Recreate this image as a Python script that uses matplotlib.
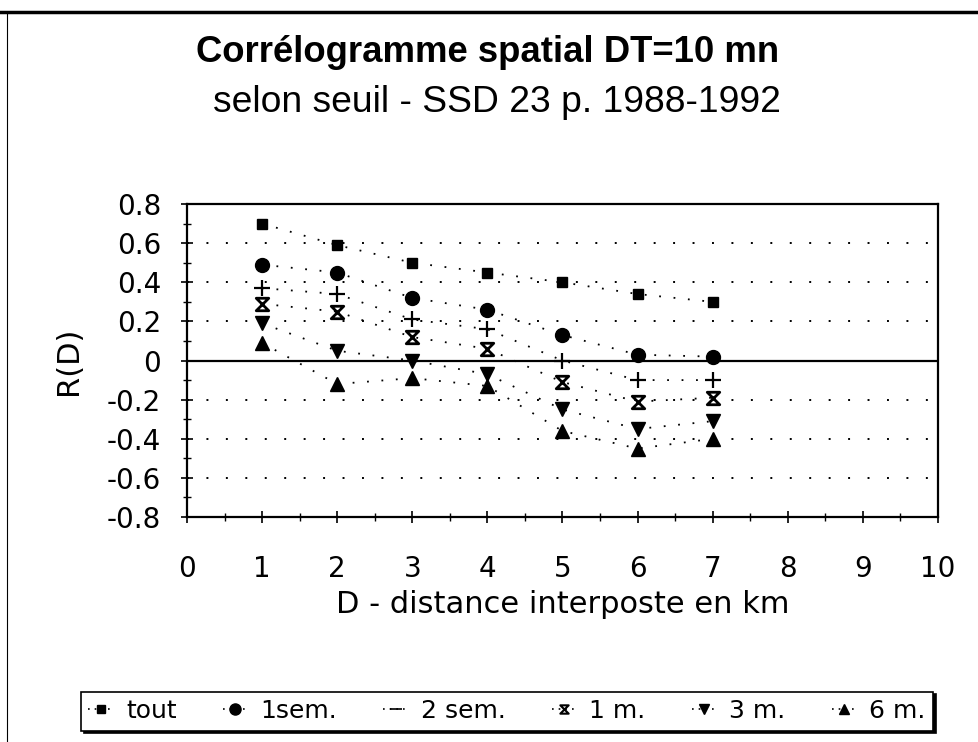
import matplotlib
matplotlib.use("Agg")
import matplotlib.pyplot as plt
from matplotlib.lines import Line2D
from matplotlib.path import Path
from matplotlib.ticker import MultipleLocator

plt.rcParams['font.family'] = ['DejaVu Sans']

# Distance (km) and correlation values per threshold
distance = [1, 2, 3, 4, 5, 6, 7]
tout = [0.70, 0.59, 0.50, 0.45, 0.40, 0.34, 0.30]
sem1 = [0.49, 0.45, 0.32, 0.26, 0.13, 0.03, 0.02]
sem2 = [0.37, 0.34, 0.21, 0.16, 0.00, -0.10, -0.10]
m1 = [0.29, 0.25, 0.12, 0.06, -0.11, -0.21, -0.19]
m3 = [0.19, 0.05, 0.00, -0.07, -0.25, -0.35, -0.31]
m6 = [0.09, -0.12, -0.09, -0.13, -0.36, -0.45, -0.40]
labels = ['tout', '1sem.', '2 sem.', '1 m.', '3 m.', '6 m.']

xticks = list(range(0, 11))
yticks = [-0.8, -0.6, -0.4, -0.2, 0, 0.2, 0.4, 0.6, 0.8]

hourglass = Path([(-1, 1), (1, 1), (-1, -1), (1, -1), (-1, 1)],
                 [Path.MOVETO, Path.LINETO, Path.LINETO, Path.LINETO, Path.CLOSEPOLY])

styles = [
    dict(marker='s', ms=7.5),
    dict(marker='o', ms=10),
    dict(marker='+', ms=11, mew=1.6),
    dict(marker=hourglass, ms=9, mfc='white', mew=2.0),
    dict(marker='v', ms=10.5),
    dict(marker='^', ms=10.5),
]
legend_styles = [
    dict(marker='s', ms=6),
    dict(marker='o', ms=8),
    dict(marker='_', ms=9, mew=1.2),
    dict(marker=hourglass, ms=6, mfc='white', mew=1.5),
    dict(marker='v', ms=7),
    dict(marker='^', ms=7),
]
series = [tout, sem1, sem2, m1, m3, m6]

fig = plt.figure(figsize=(9.79, 7.42), dpi=100)
ax = fig.add_axes([0.191, 0.3032, 0.767, 0.4218])

dotted = (0, (1, 7))
for vals, st in zip(series, styles):
    kw = dict(color='black', mec='black', ls=dotted, lw=1.3)
    if 'mfc' not in st:
        kw['mfc'] = 'black'
    kw.update(st)
    ax.plot(distance, vals, **kw)

ax.axhline(0, color='black', lw=1.6, zorder=1)
for y in [-0.6, -0.4, -0.2, 0.2, 0.4, 0.6]:
    ax.axhline(y, color='black', lw=1.4, ls=(0, (1, 9)), zorder=0)

ax.set_xlim(0, 10)
ax.set_ylim(-0.8, 0.8)
ax.set_xticks(xticks)
ax.set_xticklabels([str(v) for v in xticks])
ax.set_yticks(yticks)
ax.set_yticklabels(['0' if v == 0 else f'{v:.1f}' for v in yticks])
ax.xaxis.set_minor_locator(MultipleLocator(0.5))
ax.yaxis.set_minor_locator(MultipleLocator(0.1))
ax.tick_params(axis='both', which='major', direction='inout', length=9, width=1.2,
               labelsize=20, colors='black')
ax.tick_params(axis='both', which='minor', direction='inout', length=6, width=1.0)
ax.tick_params(axis='x', which='major', pad=23)
ax.tick_params(axis='y', which='major', pad=14)
for s in ax.spines.values():
    s.set_linewidth(1.6)

ax.set_xlabel('D - distance interposte en km', fontsize=22, labelpad=5)
ax.set_ylabel('R(D)', fontsize=22, labelpad=17)

fig.text(0.498, 1 - 62 / 742, 'Corrélogramme spatial DT=10 mn', ha='center',
         va='baseline', fontsize=26.3, fontweight='bold',
         family=['Liberation Sans', 'DejaVu Sans'])
fig.text(0.508, 1 - 112 / 742, 'selon seuil - SSD 23 p. 1988-1992', ha='center',
         va='baseline', fontsize=26.8,
         family=['Liberation Sans', 'DejaVu Sans'])

handles = []
for st in legend_styles:
    kw = dict(color='black', mec='black', ls=(0, (1, 3)), lw=1.2)
    if 'mfc' not in st:
        kw['mfc'] = 'black'
    kw.update(st)
    handles.append(Line2D([], [], **kw))
leg = fig.legend(handles, labels, ncol=6, loc='center', bbox_to_anchor=(0.518, 1 - 711 / 742),
                 fontsize=18, frameon=True, fancybox=False, handlelength=1.0,
                 handletextpad=0.5, columnspacing=1.85, borderpad=0.3,
                 shadow={'color': 'black', 'alpha': 1})
leg.get_frame().set_edgecolor('black')
leg.get_frame().set_linewidth(1.2)

# page frame lines
fig.add_artist(Line2D([0, 1], [1 - 12 / 742, 1 - 12 / 742], color='black', lw=2.5,
                      transform=fig.transFigure))
fig.add_artist(Line2D([7 / 979, 7 / 979], [0, 1 - 12 / 742], color='black', lw=0.8,
                      transform=fig.transFigure))

fig.savefig('out.png', dpi=100)
